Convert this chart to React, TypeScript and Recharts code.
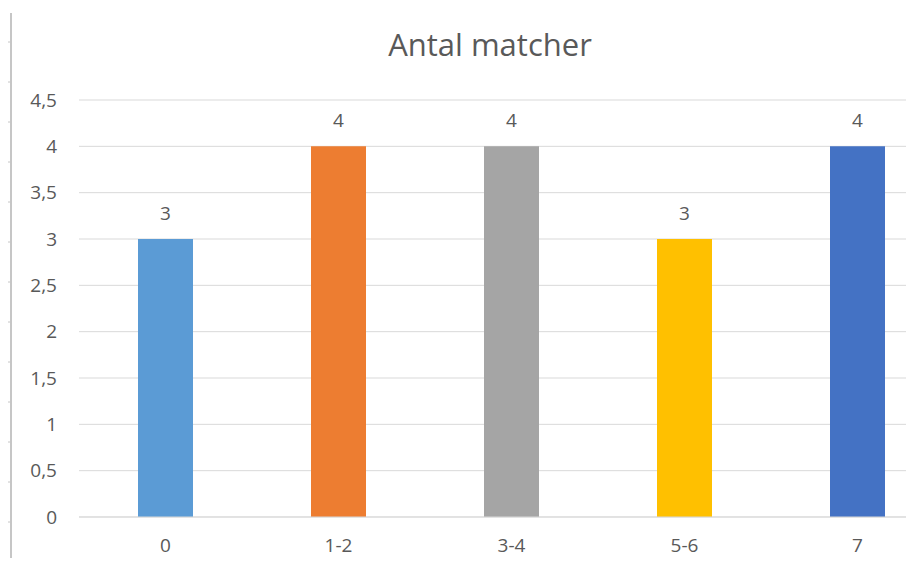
import React from "react";
import { BarChart, Bar, XAxis, YAxis, CartesianGrid, Cell, LabelList } from "recharts";

const categories = ["0", "1-2", "3-4", "5-6", "7"];
const values = [3, 4, 4, 3, 4];
const colors = ["#5B9BD5", "#ED7D31", "#A5A5A5", "#FFC000", "#4472C4"];
const yTicks = [0, 0.5, 1, 1.5, 2, 2.5, 3, 3.5, 4, 4.5];
const title = "Antal matcher";

const data = categories.map((c, i) => ({ name: c, value: values[i] }));
const FONT = "'Open Sans', sans-serif";
const TEXT = "#595959";
const fmt = (v: number) => String(v).replace(".", ",");

const rulerTicks = Array.from({ length: 14 }, (_, i) => 42 + i * 40);

export default function App() {
  return (
    <div style={{ position: "relative", margin: -8, width: 914, height: 566, overflow: "hidden", background: "#fff", fontFamily: FONT }}>
      <BarChart
        width={960}
        height={566}
        data={data}
        margin={{ top: 100, right: 16, bottom: 0, left: 0 }}
        barCategoryGap={0}
      >
        <CartesianGrid vertical={false} stroke="#d9d9d9" />
        <XAxis
          dataKey="name"
          height={49}
          axisLine={{ stroke: "#d9d9d9" }}
          tickLine={false}
          tickMargin={16}
          tick={{ fill: TEXT, fontSize: 19, fontFamily: FONT }}
        />
        <YAxis
          width={79}
          domain={[0, 4.5]}
          ticks={yTicks}
          interval={0}
          axisLine={false}
          tickLine={false}
          tickMargin={16}
          tickFormatter={fmt}
          tick={{ fill: TEXT, fontSize: 19, fontFamily: FONT }}
        />
        <Bar dataKey="value" barSize={55} isAnimationActive={false}>
          {data.map((d, i) => (
            <Cell key={d.name} fill={colors[i]} />
          ))}
          <LabelList dataKey="value" position="top" offset={19} fill={TEXT} fontSize={19} fontFamily={FONT} formatter={(v: any) => fmt(v)} />
        </Bar>
      </BarChart>
      <svg width={914} height={566} style={{ position: "absolute", left: 0, top: 0, pointerEvents: "none" }}>
        <text x={490} y={56} textAnchor="middle" fill={TEXT} fontSize={31} fontFamily={FONT}>
          {title}
        </text>
        <line x1={11} y1={13} x2={11} y2={566} stroke="#c6c6c6" strokeWidth={2} />
        {rulerTicks.map((y) => (
          <line key={y} x1={7} y1={y} x2={10} y2={y} stroke="#c6c6c6" strokeWidth={1} />
        ))}
      </svg>
    </div>
  );
}
